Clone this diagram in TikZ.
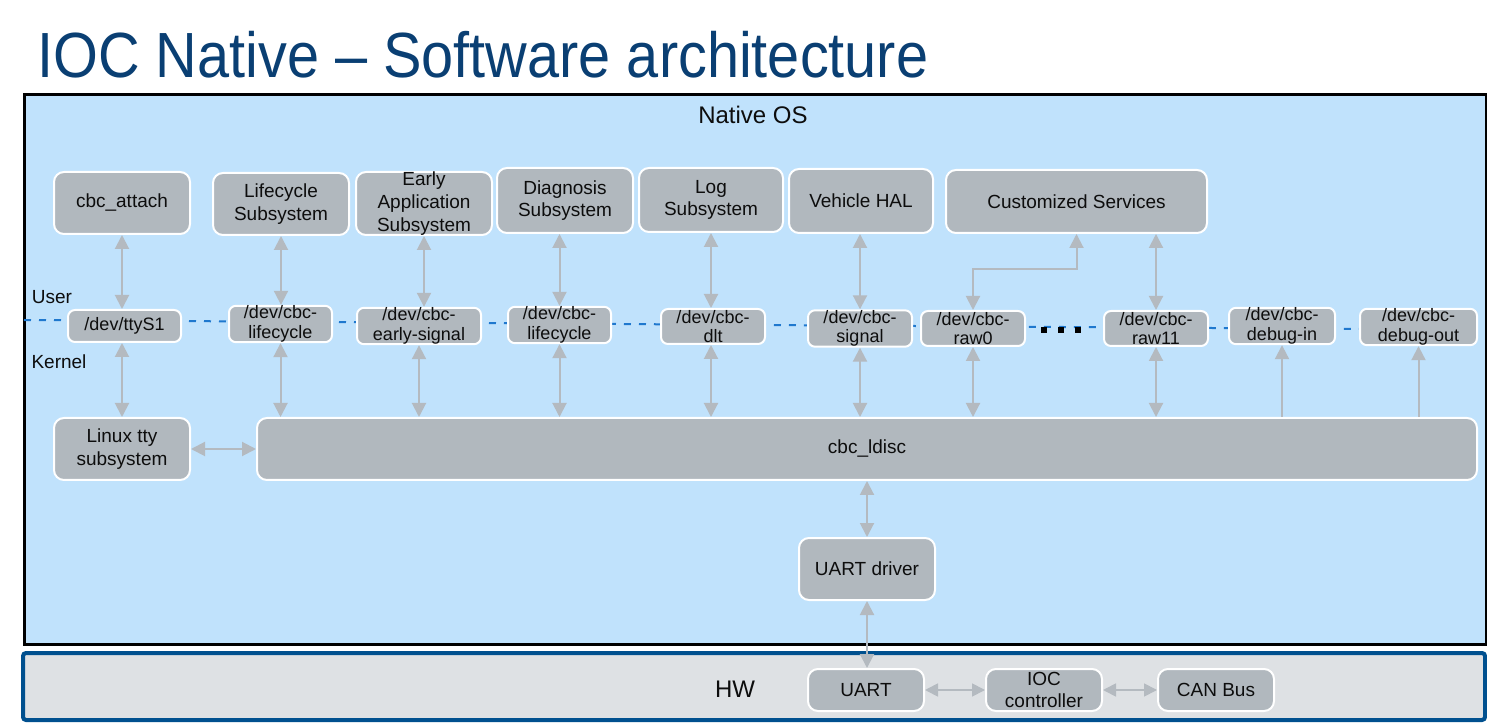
\documentclass[tikz,border=0pt]{standalone}
\usepackage{fontspec}
\setmainfont{Liberation Sans}
\usetikzlibrary{arrows.meta}
\definecolor{nativebg}{HTML}{C0E2FC}
\definecolor{boxgray}{HTML}{B1B8BE}
\definecolor{arrowgray}{HTML}{B4BAC0}
\definecolor{hwbg}{HTML}{DEE1E4}
\definecolor{hwblue}{HTML}{00508F}
\definecolor{titleblue}{HTML}{0A3F73}
\definecolor{dashblue}{HTML}{1F78CE}
\tikzset{
  region/.style={inner sep=0pt, outer sep=0pt},
  nativearea/.style={region, draw=black, line width=1.5pt, fill=nativebg},
  hwarea/.style={region, draw=hwblue, line width=2pt, fill=hwbg, rounded corners=1.5pt},
  sbox/.style={draw=white, line width=1pt, fill=boxgray, rounded corners=5pt, align=center,
    font=\fontsize{9.5}{11.3}\selectfont, inner sep=0pt, text=black!95},
  dbox/.style={draw=white, line width=1pt, fill=boxgray, rounded corners=3.5pt, align=center,
    font=\fontsize{9}{9.8}\selectfont, inner sep=0pt, text=black!95},
  lbl/.style={font=\fontsize{9.5}{11}\selectfont, inner sep=0pt, text=black!95},
  biglbl/.style={font=\fontsize{12}{14}\selectfont, inner sep=0pt, text=black!95},
  link/.style={draw=arrowgray, line width=1pt, {Triangle[length=7pt,width=7pt]}-{Triangle[length=7pt,width=7pt]}},
  uplink/.style={draw=arrowgray, line width=1pt, -{Triangle[length=7pt,width=7pt]}},
  hwlink/.style={draw=arrowgray, line width=0.9pt, {Triangle[length=6.5pt,width=6.5pt]}-{Triangle[length=6.5pt,width=6.5pt]}},
  userline/.style={draw=dashblue, line width=1pt, dash pattern=on 3.5pt off 4pt},
  dotsq/.style={fill=black, minimum size=3.3pt, inner sep=0pt},
}
\newcommand\bx[7]{\node[#1, minimum width={(#5-#3)*0.5pt}, minimum height={(#6-#4)*0.5pt}] (#2) at ({(#3+#5)/2},{(#4+#6)/2}) {#7};}
\begin{document}
\begin{tikzpicture}[x=0.5pt, y=-0.5pt]
\useasboundingbox (0,0) rectangle (1487,726);
\node[anchor=base west, text=titleblue, inner sep=0pt] (title) at (37,78)
  {\scalebox{0.93}[1.03]{\fontsize{31}{36}\selectfont IOC Native – Software architecture}};

\bx{nativearea}{native}{24}{95}{1486}{644}{}
\bx{hwarea}{hw}{23}{653}{1485}{720}{}

\node[biglbl] (nos) at (753,115) {Native OS};
\node[biglbl] (hwl) at (735,689) {HW};
\node[lbl] (user) at (52,297) {User};
\node[lbl] (kernel) at (59,362) {Kernel};

\coordinate (ul0) at (24,320);
\coordinate (ul1) at (1360,329);
\draw[userline] (ul0) -- (ul1);

% user space boxes
\bx{sbox}{att}{54}{172}{190}{234}{cbc\_attach}
\bx{sbox}{lc}{213}{173}{349}{235}{Lifecycle\\Subsystem}
\bx{sbox}{early}{356}{172}{492}{235}{Early\\Application\\Subsystem}
\bx{sbox}{diag}{497}{168}{633}{233}{Diagnosis\\Subsystem}
\bx{sbox}{log}{639}{168}{783}{232}{Log\\Subsystem}
\bx{sbox}{vhal}{789}{169}{933}{233}{Vehicle HAL}
\bx{sbox}{cust}{946}{170}{1207}{233}{Customized Services}

% device nodes
\bx{dbox}{tty}{68}{310}{181}{342}{/dev/ttyS1}
\bx{dbox}{dlc}{229}{306}{332}{342}{/dev/cbc-\\lifecycle}
\bx{dbox}{des}{357}{310}{481}{342}{/dev/cbc-\\early-signal}
\bx{dbox}{dlc2}{508}{307}{611}{343}{/dev/cbc-\\lifecycle}
\bx{dbox}{dlt}{661}{309}{765}{344}{/dev/cbc-\\dlt}
\bx{dbox}{sig}{808}{311}{912}{346}{/dev/cbc-\\signal}
\bx{dbox}{raw0}{921}{311}{1025}{346}{/dev/cbc-\\raw0}
\bx{dbox}{raw11}{1104}{311}{1208}{346}{/dev/cbc-\\raw11}
\bx{dbox}{dbgin}{1229}{309}{1335}{343}{/dev/cbc-\\debug-in}
\bx{dbox}{dbgout}{1360}{309}{1477}{345}{/dev/cbc-\\debug-out}

\node[dotsq] (d1) at (1044,330) {};
\node[dotsq] (d2) at (1061,330) {};
\node[dotsq] (d3) at (1078,330) {};

% kernel boxes
\bx{sbox}{linux}{54}{418}{190}{480}{Linux tty\\subsystem}
\bx{sbox}{ldisc}{257}{418}{1477}{480}{cbc\_ldisc}
\bx{sbox}{drv}{799}{538}{935}{600}{UART driver}

% hardware boxes
\bx{sbox}{uart}{808}{669}{924}{711}{UART}
\bx{sbox}{ioc}{986}{669}{1102}{711}{IOC\\controller}
\bx{sbox}{can}{1158}{669}{1274}{711}{CAN Bus}

% user <-> device
\draw[link] (att.south) -- (att.south |- tty.north);
\draw[link] (lc.south) -- (lc.south |- dlc.north);
\draw[link] (early.south) -- (early.south |- des.north);
\draw[link] (dlc2.north |- diag.south) -- (dlc2.north);
\draw[link] (log.south) -- (log.south |- dlt.north);
\draw[link] (sig.north |- vhal.south) -- (sig.north);
\draw[link] (cust.south) -- ++(0,35) -| (raw0.north);
\draw[link] (raw11.north |- cust.south) -- (raw11.north);

% device <-> kernel
\draw[link] (linux.north |- tty.south) -- (linux.north);
\draw[link] (dlc.south) -- (dlc.south |- ldisc.north);
\draw[link] (des.south) -- (des.south |- ldisc.north);
\draw[link] (dlc2.south) -- (dlc2.south |- ldisc.north);
\draw[link] (log.south |- dlt.south) -- (log.south |- ldisc.north);
\draw[link] (sig.south) -- (sig.south |- ldisc.north);
\draw[link] (raw0.south) -- (raw0.south |- ldisc.north);
\draw[link] (raw11.south) -- (raw11.south |- ldisc.north);
\draw[uplink] (dbgin.south |- ldisc.north) -- (dbgin.south);
\draw[uplink] (dbgout.south |- ldisc.north) -- (dbgout.south);

\draw[link] (linux.east) -- (ldisc.west);
\draw[link] (ldisc.south) -- (drv.north);
\draw[link] (drv.south) -- (drv.south |- uart.north);

% hardware
\draw[hwlink] (uart.east) -- (ioc.west);
\draw[hwlink] (ioc.east) -- (can.west);
\end{tikzpicture}
\end{document}
